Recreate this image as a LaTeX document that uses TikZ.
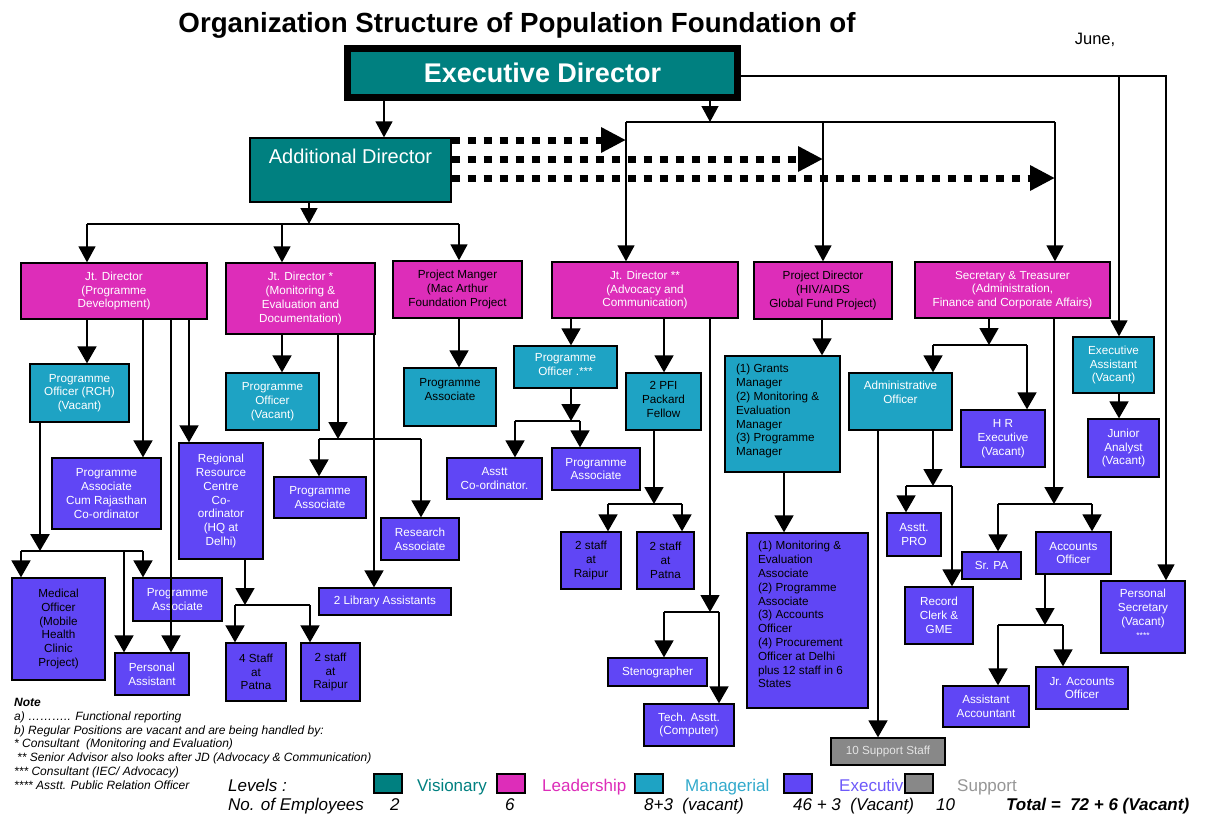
\documentclass[tikz,border=0pt]{standalone}
\usepackage{fontspec}
\setmainfont{Liberation Sans}
\usetikzlibrary{arrows.meta}
\definecolor{vis}{RGB}{0,128,128}
\definecolor{lead}{RGB}{221,45,185}
\definecolor{mgr}{RGB}{30,163,196}
\definecolor{exe}{RGB}{96,70,245}
\definecolor{supfill}{RGB}{136,136,136}
\definecolor{suptext}{RGB}{228,228,228}
\definecolor{mgrtext}{RGB}{51,170,204}
\definecolor{exetext}{RGB}{110,90,250}
\definecolor{suplabel}{RGB}{150,150,150}
% centred box: name, x1, y1, x2, y2, style, text
\newcommand\bxc[7]{\node[#6, minimum width={#4-#2}, minimum height={#5-#3}] (#1) at ({(#2+#4)/2},{-(#3+#5)/2}) {\parbox{\dimexpr #4pt - #2pt - 4pt\relax}{\centering #7\par}};}
% top-aligned box: name, x1, y1, x2, y2, style, top pad, text
\newcommand\bxt[8]{\node[#6, minimum width={#4-#2}, minimum height={#5-#3}] (#1) at ({(#2+#4)/2},{-(#3+#5)/2}) {\parbox[c][\dimexpr #5pt - #3pt - 2pt\relax][t]{\dimexpr #4pt - #2pt - 4pt\relax}{\vspace*{#7pt}\centering #8\par}};}
\begin{document}
\begin{tikzpicture}[x=1pt,y=1pt,
  box/.style={draw=black, line width=1.3pt, inner sep=1pt, font=\fontsize{11.7}{13.8}\selectfont},
  vbox/.style={box, fill=vis, text=white},
  lbox/.style={box, fill=lead},
  mbox/.style={box, fill=mgr},
  ebox/.style={box, fill=exe},
  sbox/.style={box, fill=supfill, text=suptext},
  wt/.style={text=white},
  bk/.style={text=black},
  conn/.style={line width=1.8pt, -{Triangle[width=19pt,length=17pt]}},
  plain/.style={line width=1.8pt},
  thinconn/.style={line width=1.3pt, -{Triangle[width=17pt,length=16pt]}},
  thinline/.style={line width=1.3pt},
  dotarr/.style={line width=7pt, dash pattern=on 8pt off 8pt, -{Triangle[width=24pt,length=25pt]}},
  sq/.style={draw=black, line width=1.3pt, minimum width=28pt, minimum height=19pt, inner sep=0pt},
  leg/.style={anchor=base west, inner sep=0pt, font=\fontsize{17}{20}\selectfont},
  legi/.style={leg, font=\fontsize{17}{20}\selectfont\itshape},
]
\path[use as bounding box, fill=white] (0,0) rectangle (1205,-814);

% title
\node[font=\fontsize{27.7}{30}\selectfont\bfseries, inner sep=0pt] (title) at (517,-25) {Organization Structure of Population Foundation of};
\node[font=\fontsize{16.5}{19}\selectfont, inner sep=0pt] (june) at (1095,-40) {June,};

% top level
\bxc{ed}{347.5}{48.5}{737.5}{97.5}{vbox, line width=7pt, font=\fontsize{27}{30}\selectfont\bfseries}{Executive Director}
\bxt{ad}{250}{138}{451}{202}{vbox, font=\fontsize{20}{24}\selectfont}{10.5}{Additional Director}

% leadership
\bxc{jd1}{21}{263}{207}{319}{lbox,wt}{Jt. Director\\(Programme\\Development)}
\bxc{jd2}{226}{263}{375}{334}{lbox,wt}{Jt. Director *\\(Monitoring \&\\Evaluation and\\Documentation)}
\bxc{pm}{393}{261}{522}{318}{lbox,bk}{Project Manger\\(Mac Arthur\\Foundation Project}
\bxc{jd3}{552}{262}{738}{318}{lbox,wt}{Jt. Director **\\(Advocacy and\\Communication)}
\bxc{pd}{754}{262}{892}{319}{lbox,bk}{Project Director\\(HIV/AIDS\\Global Fund Project)}
\bxc{st}{915}{262}{1110}{318}{lbox,wt}{Secretary \& Treasurer\\(Administration,\\Finance and Corporate Affairs)}

% left branch
\bxc{porch}{30}{364}{129}{422}{mbox,wt}{Programme\\Officer (RCH)\\(Vacant)}
\bxc{pacum}{52}{458}{161}{529}{ebox,wt}{Programme\\Associate\\Cum Rajasthan\\Co-ordinator}
\bxc{rrc}{179}{443}{263}{559}{ebox,wt}{Regional\\Resource\\Centre\\Co-\\ordinator\\(HQ at\\Delhi)}
\bxc{mo}{12}{578}{105}{680}{ebox,bk}{Medical\\Officer\\(Mobile\\Health\\Clinic\\Project)}
\bxc{pa1}{133}{578}{222}{621}{ebox,wt}{Programme\\Associate}
\bxc{passt}{115}{653}{189}{695}{ebox,wt}{Personal\\Assistant}
\bxc{s4p}{226}{643}{286}{701}{ebox,bk}{4 Staff\\at\\Patna}
\bxc{s2r}{301}{643}{360}{701}{ebox,bk}{2 staff\\at\\Raipur}
\bxc{po2}{226}{373}{319}{430}{mbox,wt}{Programme\\Officer\\(Vacant)}
\bxc{pa2}{274}{477}{366}{518}{ebox,wt}{Programme\\Associate}
\bxc{ra}{381}{518}{459}{560}{ebox,wt}{Research\\Associate}
\bxc{lib}{319}{588}{451}{615}{ebox,wt}{2 Library Assistants}
\bxt{pa3}{404}{368}{496}{426}{mbox,bk}{9.5}{Programme\\Associate}

% middle branch
\bxt{po3}{514}{346}{617}{388}{mbox,wt}{6.5}{Programme\\Officer .***}
\bxc{asco}{447}{458}{542}{499}{ebox,wt}{Asstt\\Co-ordinator.}
\bxc{pa4}{552}{448}{640}{490}{ebox,wt}{Programme\\Associate}
\bxt{pfi}{626}{373}{701}{430}{mbox,bk}{7.5}{2 PFI\\Packard\\Fellow}
\bxc{s1}{561}{532}{621}{589}{ebox,bk}{2 staff\\at\\Raipur}
\bxc{s2}{637}{532}{694}{589}{ebox,bk}{2 staff\\at\\Patna}
\bxc{steno}{608}{658}{707}{686}{ebox,wt}{Stenographer}
\bxc{tech}{644}{704}{734}{746}{ebox,wt}{Tech. Asstt.\\(Computer)}
\bxt{gm}{725}{356}{840}{472}{mbox,bk}{7.5}{\raggedright\leftskip=9pt (1) Grants\\Manager\\(2) Monitoring \&\\Evaluation\\Manager\\(3) Programme\\Manager}
\bxt{mon}{747}{533}{868}{708}{ebox,bk}{7.5}{\raggedright\leftskip=9pt (1) Monitoring \&\\Evaluation\\Associate\\(2) Programme\\Associate\\(3) Accounts\\Officer\\(4) Procurement\\Officer at Delhi\\plus 12 staff in 6\\States}

% right branch
\bxt{ao}{849}{373}{952}{430}{mbox,wt}{7.5}{Administrative\\Officer}
\bxc{hr}{961}{410}{1045}{467}{ebox,wt}{H R\\Executive\\(Vacant)}
\bxc{pro}{887}{513}{941}{556}{ebox,wt}{Asstt.\\PRO}
\bxc{rec}{905}{587}{973}{644}{ebox,wt}{Record\\Clerk \&\\GME}
\bxc{srpa}{962}{552}{1021}{579}{ebox,wt}{Sr. PA}
\bxc{acc}{1036}{532}{1111}{574}{ebox,wt}{Accounts\\Officer}
\bxc{aacc}{943}{686}{1029}{727}{ebox,wt}{Assistant\\Accountant}
\bxc{jracc}{1036}{667}{1128}{709}{ebox,wt}{Jr. Accounts\\Officer}
\bxt{ps}{1101}{581}{1185}{653}{ebox,wt}{7.5}{Personal\\Secretary\\(Vacant)\\[-1pt]{\fontsize{8.5}{9}\selectfont ****}}
\bxc{ea}{1073}{337}{1154}{393}{mbox,wt}{Executive\\Assistant\\(Vacant)}
\bxc{ja}{1088}{419}{1159}{477}{ebox,wt}{Junior\\Analyst\\(Vacant)}
\bxc{sup}{831}{738}{945}{765}{sbox}{10 Support Staff}

% ---- connectors: top level
\coordinate (bus) at (626,-122);
\coordinate (busR) at (1055,-122);
\coordinate (edr) at (1166,-76);
\coordinate (edr2) at (1119,-76);
\draw[thinconn] (ed.south -| 384,0) -- (ad.north -| 384,0);
\draw[thinconn] (ed.south -| 710,0) -- (bus -| 710,0);
\draw[thinline] (bus) -- (busR);
\draw[thinconn] (bus) -- (jd3.north -| bus);
\draw[thinconn] (bus -| pd.north) -- (pd.north);
\draw[thinconn] (busR) -- (st.north -| busR);
\draw[thinconn] (ed.east |- edr) -| (ps.north -| edr);
\draw[thinconn] (edr2) -- (ea.north -| edr2);
% functional reporting
\draw[dotarr] (ad.east |- 0,-140) -- (bus |- 0,-140);
\draw[dotarr] (ad.east |- 0,-159) -- (pd.north |- 0,-159);
\draw[dotarr] (ad.east |- 0,-178) -- (busR |- 0,-178);
% additional director
\coordinate (b2) at (309,-224);
\draw[thinconn] (ad.south -| b2) -- (b2);
\draw[thinline] (b2 -| 87,0) -- (b2 -| 459,0);
\draw[thinconn] (b2 -| 87,0) -- (jd1.north -| 87,0);
\draw[thinconn] (b2 -| 282,0) -- (jd2.north -| 282,0);
\draw[thinconn] (b2 -| 459,0) -- (pm.north -| 459,0);
% JD1
\draw[conn] (jd1.south -| 87,0) -- (porch.north -| 87,0);
\draw[conn] (jd1.south -| 143,0) -- (pacum.north -| 143,0);
\draw[conn] (jd1.south -| 171,0) -- (passt.north -| 171,0);
\draw[conn] (jd1.south -| 189,0) -- (rrc.north -| 189,0);
\coordinate (b3) at (40,-551);
\draw[conn, line width=2.8pt] (porch.south -| b3) -- (b3);
\draw[plain] (b3 -| 21,0) -- (b3 -| 143,0);
\draw[conn] (b3 -| 21,0) -- (mo.north -| 21,0);
\draw[conn] (b3 -| 124,0) -- (passt.north -| 124,0);
\draw[conn] (b3 -| 143,0) -- (pa1.north -| 143,0);
\coordinate (b4) at (245,-605);
\draw[conn] (rrc.south -| b4) -- (b4);
\draw[plain] (b4 -| 235,0) -- (b4 -| 310,0);
\draw[conn] (b4 -| 235,0) -- (s4p.north -| 235,0);
\draw[conn] (b4 -| 310,0) -- (s2r.north -| 310,0);
% JD2
\draw[conn] (jd2.south -| 282,0) -- (po2.north -| 282,0);
\coordinate (b5) at (338,-439);
\draw[conn] (jd2.south -| b5) -- (b5);
\draw[plain] (b5 -| 319,0) -- (b5 -| 421,0);
\draw[conn] (b5 -| 319,0) -- (pa2.north -| 319,0);
\draw[conn] (b5 -| 421,0) -- (ra.north -| 421,0);
\draw[conn] (jd2.south -| 374,0) -- (lib.north -| 374,0);
% PM
\draw[conn] (pm.south -| 459,0) -- (pa3.north -| 459,0);
% JD3
\draw[conn] (jd3.south -| 571,0) -- (po3.north -| 571,0);
\draw[conn] (jd3.south -| 664,0) -- (pfi.north -| 664,0);
\coordinate (b6) at (710,-612);
\draw[conn, line width=1.3pt] (jd3.south -| b6) -- (b6);
\draw[plain] (b6 -| 664,0) -- (b6 -| 719,0);
\draw[conn] (b6 -| 664,0) -- (steno.north -| 664,0);
\draw[conn] (b6 -| 719,0) -- (tech.north -| 719,0);
\coordinate (b7) at (571,-421);
\draw[conn] (po3.south -| b7) -- (b7);
\draw[plain] (b7 -| 515,0) -- (b7 -| 580,0);
\draw[conn] (b7 -| 515,0) -- (asco.north -| 515,0);
\draw[conn] (b7 -| 580,0) -- (pa4.north -| 580,0);
\coordinate (b8) at (654,-504);
\draw[conn] (pfi.south -| b8) -- (b8);
\draw[plain] (b8 -| 608,0) -- (b8 -| 682,0);
\draw[conn] (b8 -| 608,0) -- (s1.north -| 608,0);
\draw[conn] (b8 -| 682,0) -- (s2.north -| 682,0);
% PD
\draw[conn] (pd.south -| 822,0) -- (gm.north -| 822,0);
\draw[conn] (gm.south -| 784,0) -- (mon.north -| 784,0);
% S&T
\coordinate (b9) at (989,-345);
\draw[conn] (st.south -| b9) -- (b9);
\draw[plain] (b9 -| 933,0) -- (b9 -| 1027,0);
\draw[conn] (b9 -| 933,0) -- (ao.north -| 933,0);
\draw[conn] (b9 -| 1027,0) -- (hr.north -| 1027,0);
\coordinate (b10) at (1054,-504);
\draw[conn] (st.south -| b10) -- (b10);
\draw[plain] (b10 -| 998,0) -- (b10 -| 1092,0);
\draw[conn] (b10 -| 998,0) -- (srpa.north -| 998,0);
\draw[conn] (b10 -| 1092,0) -- (acc.north -| 1092,0);
\coordinate (b11) at (933,-486);
\draw[conn] (ao.south -| b11) -- (b11);
\draw[plain] (b11 -| 906,0) -- (b11 -| 952,0);
\draw[conn] (b11 -| 906,0) -- (pro.north -| 906,0);
\draw[conn] (b11 -| 952,0) -- (rec.north -| 952,0);
\draw[conn] (ao.south -| 878,0) -- (sup.north -| 878,0);
\coordinate (b12) at (1045,-625);
\draw[conn] (acc.south -| b12) -- (b12);
\draw[plain] (b12 -| 998,0) -- (b12 -| 1063,0);
\draw[conn] (b12 -| 998,0) -- (aacc.north -| 998,0);
\draw[conn] (b12 -| 1063,0) -- (jracc.north -| 1063,0);
\draw[conn] (ea.south -| 1119,0) -- (ja.north -| 1119,0);

% notes
\node[anchor=north west, inner sep=0pt, align=left, font=\fontsize{12}{13.8}\selectfont\itshape] (notes) at (14,-698)
 {\textbf{Note}\\a) ……….. Functional reporting\\b) Regular Positions are vacant and are being handled by:\\{}* Consultant\ \ (Monitoring and Evaluation)\\\hspace*{3pt}** Senior Advisor also looks after JD (Advocacy \& Communication)\\{}*** Consultant (IEC/ Advocacy)\\{}**** Asstt. Public Relation Officer};

% legend
\node[legi] (lvl) at (228,-791) {Levels :};
\node[legi] (noemp) at (228,-810) {No. of Employees};
\node[sq, fill=vis] (sqv) at (388,-783.5) {};
\node[leg, text=vis] (lv) at (417,-791) {Visionary};
\node[sq, fill=lead] (sql) at (511,-783.5) {};
\node[leg, text=lead] (ll) at (542,-791) {Leadership};
\node[sq, fill=mgr] (sqm) at (649,-783.5) {};
\node[leg, text=mgrtext] (lm) at (685,-791) {Managerial};
\node[sq, fill=exe] (sqe) at (798,-783.5) {};
\node[leg, text=exetext] (le) at (839,-791) {Executiv};
\node[sq, fill=supfill] (sqs) at (919,-783.5) {};
\node[leg, text=suplabel] (ls) at (957,-791) {Support};
\node[legi] (n1) at (390,-810) {2};
\node[legi] (n2) at (505,-810) {6};
\node[legi] (n3) at (644,-810) {8+3\ \ (vacant)};
\node[legi] (n4) at (793,-810) {46 + 3\ \ (Vacant)};
\node[legi] (n5) at (936,-810) {10};
\node[leg, font=\fontsize{17}{20}\selectfont\bfseries\itshape] (tot) at (1006,-810) {Total =\ \ 72 + 6 (Vacant)};
\end{tikzpicture}
\end{document}
